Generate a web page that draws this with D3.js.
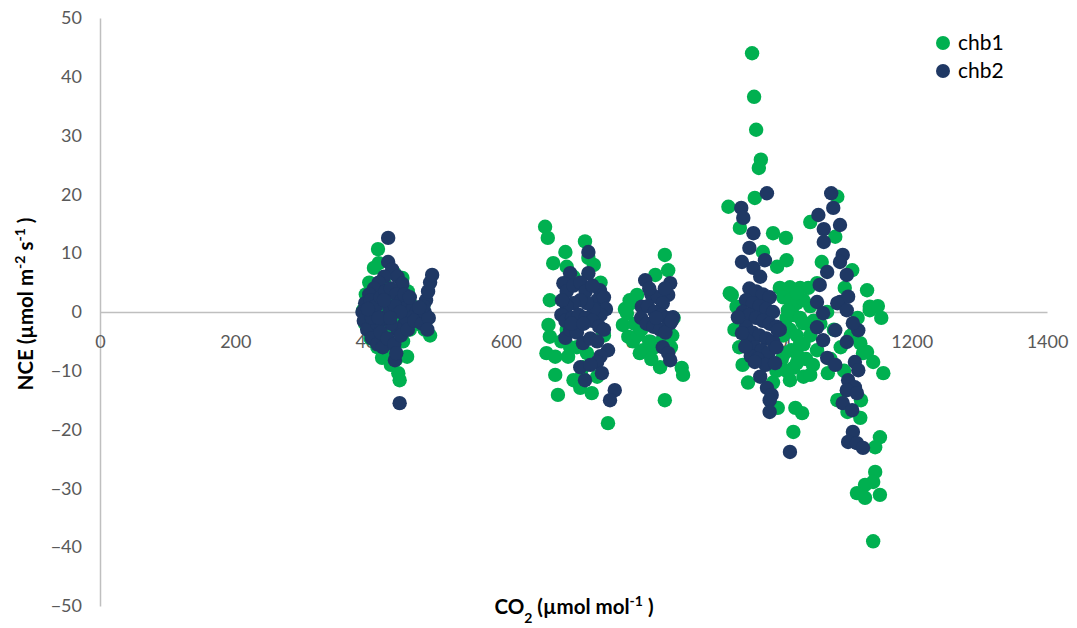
<!DOCTYPE html>
<html>
<head>
<meta charset="utf-8">
<script src="https://cdn.jsdelivr.net/npm/d3@7"></script>
<style>
  html, body { margin: 0; padding: 0; background: #fff; }
  svg { display: block; font-family: Lato, "Open Sans", sans-serif; }
</style>
</head>
<body>
<svg id="chart" width="1077" height="628"></svg>
<script>
// Axis ticks
const xTicks = [0, 200, 400, 600, 800, 1000, 1200, 1400];
const yTicks = [-50, -40, -30, -20, -10, 0, 10, 20, 30, 40, 50];

// Series names
const seriesNames = ["chb1", "chb2"];

// chb1: [CO2, NCE]
const chb1 = [
  // ~400 ppm
  [411,10.7],[412,8.3],[405,7.5],[398,5],[393,3],[389,0.3],[392,-2],[400,-4.5],[410,-6],[417,-7.8],
  [425,-6.5],[441,-10.4],[443,-11.6],[454,-7.6],[448,-5],[458,-3],[462,1],[455,3.5],[447,5.8],[436,6.5],
  [430,2],[420,0],[415,3],[425,-3],[435,-1],[470,-2],[480,-3],[488,-4],[485,-1],[478,1],
  [420,5],[402,1],[396,-1],[430,-9],[438,-8],
  // ~700 ppm
  [658,14.5],[662,12.6],[717,12],[688,10.2],[670,8.3],[690,7.7],[665,2],[663,-2.2],[665,-4.2],[660,-7],
  [673,-7.6],[692,-7.6],[673,-10.7],[700,-11.6],[677,-14.1],[710,-12.9],[727,-13.8],[751,-18.9],[722,9.2],[735,1.5],
  [744,-3.6],[695,-6],[714,-9.4],[700,6],[730,8],[740,5],[745,-4],[705,-6],[690,-3],[720,-7],
  [735,-11],[712,-11],[682,-5],
  // ~800 ppm
  [835,9.7],[840,7.1],[821,6.3],[794,2.9],[779,-0.2],[773,-2.2],[781,-4.2],[803,-6.5],[828,-9.4],[860,-9.5],
  [862,-10.7],[835,-15],[785,1.5],[790,-2],[788,-5],[795,-4],[800,-3],[812,-5],[820,-6],[830,-5],
  [846,-4],[848,-1],[776,0.5],[783,2],[798,-7],[815,-8],[844,-6],
  // ~1000-1150 ppm
  [964,44],[967,36.6],[970,31],[977,25.9],[974,24.5],[968,19.4],[929,17.9],[946,14.3],[995,13.4],[1014,12.6],
  [980,10.2],[1015,8.8],[1001,7.7],[931,3.2],[1005,4.1],[1020,4.2],[1035,4.1],[1047,4.1],
  [1090,19.6],[1050,15.3],[1087,12.8],[1067,8.5],[1112,7.1],[1134,3.7],[1060,4.9],[1101,4.1],[1138,0.9],
  [934,2.9],[941,0.9],[938,-3],[945,-6],[950,-9],[958,-12],
  [1010,2.5],[1020,2],[1030,1.5],[1040,2],[1050,1],[1015,-1],[1025,-0.5],[1035,-1],[1045,-2],[1055,-1.5],
  [1010,-4],[1020,-3],[1030,-4],[1040,-5.5],[1050,-4],[1012,-7],[1022,-6.5],[1032,-7.5],[1044,-8],[1054,-9],
  [1015,-10],[1025,-9.5],[1040,-11],[1008,-8],[1000,-10],[995,-12],
  [1020,-11.6],[1050,-10.7],[1030,-8.7],[1035,-5.3],[1039,-1.9],[1017,0.3],[1030,3.2],
  [1002,-16.3],[1028,-16.3],[1038,-17.2],[1025,-20.4],[1060,-6.5],
  [1138,0.3],[1124,-5.3],[1134,-6.8],[1143,-8.5],[1158,-10.4],[1090,-15],[1124,-18],[1153,-21.3],[1146,-23],
  [1146,-27.2],[1143,-28.9],[1131,-29.4],[1119,-30.8],[1131,-31.6],[1153,-31.1],[1143,-39],
  [1076,-10.4],[1094,-15],[1065,-2],[1075,0],[1085,-3],[1095,-6],[1110,-4],[1120,-1],[1128,-7],[1080,-8],
  [1100,-10],[1115,-13],[1125,-15],[1105,-17],[1150,1],[1155,-1]
];

// chb2: [CO2, NCE]
const chb2 = [
  // ~400 ppm
  [426,12.6],[426,8.5],[432,7.2],[440,6],[447,4.8],[420,6],[412,5],[405,4],[398,3],[392,1.5],
  [388,0],[390,-1.5],[395,-3],[402,-4.5],[410,-5.5],[418,-6],[400,2],[408,1],[415,2.5],[422,3.5],
  [430,4],[438,3],[446,2],[455,1],[462,0.5],[468,0],[460,-1],[450,-2],[440,-3],[430,-2],
  [420,-1],[410,-2],[402,-1],[396,0.5],[415,-3.5],[425,-4.5],[435,-5.5],[445,-4],[455,-3],[436,-8.2],
  [438,-7],[443,-15.5],[428,0.5],[436,1],[444,0],[450,3],[458,2.5],[465,-1.5],[476,-2],[480,0],
  [482,2],[485,3.5],[488,5],[491,6.3],[486,-1],[484,-3],[478,1],[472,0.8],[412,-1],[420,2],[429,-1],
  // ~700 ppm
  [722,10.2],[695,6.6],[722,6.6],[685,4.9],[739,3.7],[690,3.5],[700,4.5],[710,5],[718,3.5],[728,4.5],
  [735,2],[745,2.5],[748,0.5],[740,-0.5],[730,0.5],[720,1.5],[710,2],[700,1.5],[690,1],[683,2],
  [682,-0.5],[688,-1.5],[698,-1],[708,-0.5],[718,-1],[728,-1.5],[738,-2.5],[745,-3],[688,-4.4],[695,-3],
  [705,-3.5],[714,-5.3],[725,-4.5],[735,-5],[751,-6.5],[740,-7.5],[735,-8.5],[710,-9.4],[725,-9],[742,-10.4],
  [717,-11.6],[761,-13.3],[754,-15],[697,-2],[715,-2],
  // ~800 ppm
  [806,5.4],[843,4.9],[840,2.9],[801,0.9],[815,3],[825,2.5],[832,1.5],[810,1],[820,0],[830,-0.5],
  [838,-1],[847,-0.9],[843,-1.9],[800,-1],[808,-2],[818,-2.5],[828,-3],[836,-3.5],[845,-1.5],[832,-6],
  [840,-7],[843,-8.2],[812,4],[835,4],[822,-1],
  // ~1000-1150 ppm
  [986,20.2],[948,17.7],[951,16],[966,13.4],[960,10.9],[949,8.5],[983,8.8],[966,7.5],[976,6],
  [960,4],[970,3.5],[980,3],[990,2.5],[955,2],[965,1.5],[975,1],[985,0.5],[995,0],[950,0],
  [960,-0.5],[970,-1],[980,-1.5],[990,-2],[1000,-2.5],[955,-2.5],[965,-3.5],[975,-4],[985,-4.5],[995,-5],
  [958,-5],[968,-6],[978,-6.5],[988,-7],[1000,-6],[962,-7.5],[972,-8],[984,-9],[1005,-3],
  [943,-0.9],[949,-3.6],[954,-5.9],[968,-8.5],[998,-8.7],[976,-11],[986,-12.9],[993,-14.1],[990,-15],[990,-17],
  [1020,-23.8],[1002,-3.1],
  [1081,20.2],[1084,17.7],[1062,16.5],[1094,14.8],[1070,14.1],[1070,11.9],[1098,9.7],[1094,8.5],[1075,6.8],[1104,6.3],
  [1064,4.6],[1060,1.7],[1094,1.7],[1106,2.6],[1090,1.5],[1104,0.3],
  [1069,-0.2],[1060,-2.6],[1069,-4.8],[1087,-3.1],[1104,-5.1],[1121,-3.1],[1113,-1.9],[1075,-7.8],[1087,-9],[1116,-8.5],
  [1121,-9.9],[1106,-11.6],[1116,-12.8],[1104,-13.3],[1119,-13.8],[1098,-15.5],[1112,-16.7],[1113,-20.4],[1106,-22.1],[1119,-22.3],
  [1128,-23.1]
];

const colors = ["#00B050", "#1F3864"];

const svg = d3.select("#chart");

const x = d3.scaleLinear().domain([0, 1400]).range([100, 1047]);
const y = d3.scaleLinear().domain([-50, 50]).range([606, 18]);

const axisColor = "#BFBFBF";
const labelColor = "#595959";

// Vertical axis
const yAxis = svg.append("g")
  .attr("transform", `translate(${x(0)},0)`)
  .call(d3.axisLeft(y).tickValues(yTicks).tickSize(0).tickPadding(18).tickFormat(d3.format("d")));
yAxis.select(".domain").attr("stroke", axisColor).attr("stroke-width", 1.5);
yAxis.selectAll("text").attr("fill", labelColor).style("font-size", "18px").style("font-family", "Lato, sans-serif");

// Horizontal axis through zero
const xAxis = svg.append("g")
  .attr("transform", `translate(0,${y(0)})`)
  .call(d3.axisBottom(x).tickValues(xTicks).tickSize(0).tickPadding(23).tickFormat(d3.format("d")));
xAxis.select(".domain").attr("stroke", axisColor).attr("stroke-width", 1.5);
xAxis.selectAll("text").attr("fill", labelColor).style("font-size", "18px").style("font-family", "Lato, sans-serif");

// Points
[chb1, chb2].forEach((series, i) => {
  svg.append("g")
    .selectAll("circle")
    .data(series)
    .join("circle")
    .attr("cx", d => x(d[0]))
    .attr("cy", d => y(d[1]))
    .attr("r", 7.2)
    .attr("fill", colors[i]);
});

// Legend
const legend = svg.append("g").attr("transform", "translate(943,43)");
seriesNames.forEach((name, i) => {
  const row = legend.append("g").attr("transform", `translate(0,${i * 28})`);
  row.append("circle").attr("r", 7).attr("fill", colors[i]);
  row.append("text").attr("x", 15).attr("dy", "0.35em")
    .style("font-size", "21px").attr("fill", "#000").text(name);
});

// Axis titles
const yTitle = svg.append("text")
  .attr("transform", "translate(33,304) rotate(-90)")
  .attr("text-anchor", "middle")
  .style("font-size", "20.5px").style("font-weight", "bold").attr("fill", "#000");
yTitle.append("tspan").text("NCE (µmol m");
yTitle.append("tspan").attr("baseline-shift", "super").style("font-size", "14px").text("-2");
yTitle.append("tspan").text(" s");
yTitle.append("tspan").attr("baseline-shift", "super").style("font-size", "14px").text("-1");
yTitle.append("tspan").text(" )");

const xTitle = svg.append("text")
  .attr("x", 574).attr("y", 614)
  .attr("text-anchor", "middle")
  .style("font-size", "20.5px").style("font-weight", "bold").attr("fill", "#000");
xTitle.append("tspan").text("CO");
xTitle.append("tspan").attr("baseline-shift", "sub").style("font-size", "14px").text("2");
xTitle.append("tspan").text(" (µmol mol");
xTitle.append("tspan").attr("baseline-shift", "super").style("font-size", "14px").text("-1");
xTitle.append("tspan").text(" )");
</script>
</body>
</html>
